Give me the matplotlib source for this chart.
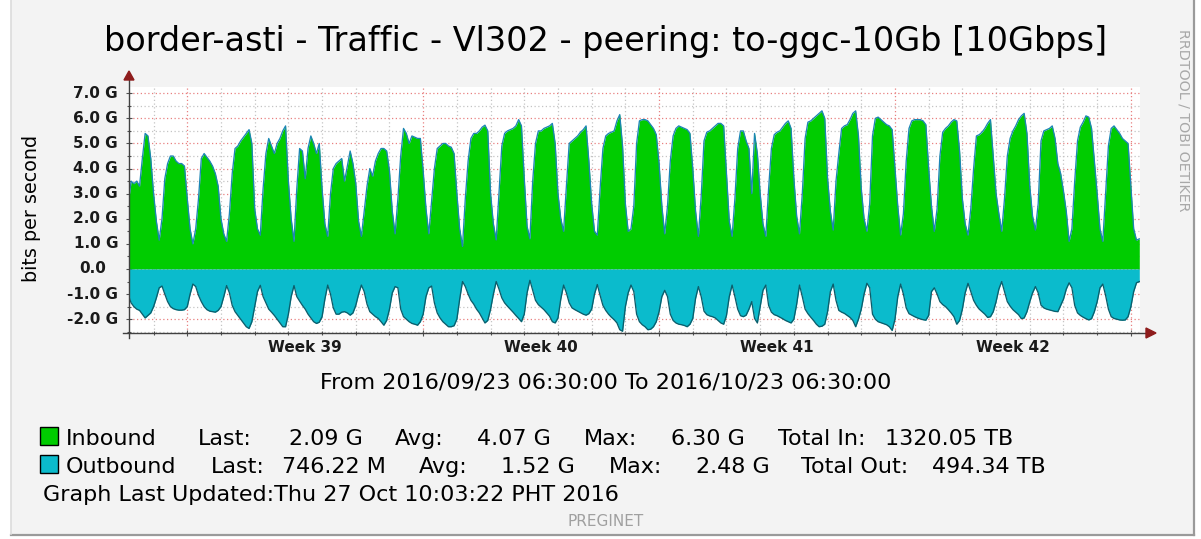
import matplotlib
matplotlib.use("Agg")
import matplotlib.pyplot as plt
import matplotlib.transforms as mtransforms
from matplotlib.lines import Line2D
from matplotlib.patches import Polygon, Rectangle
import numpy as np
import pandas as pd

# ---------------- data ----------------
title = "border-asti - Traffic - Vl302 - peering: to-ggc-10Gb [10Gbps]"
range_text = "From 2016/09/23 06:30:00 To 2016/10/23 06:30:00"
updated_text = "Graph Last Updated:Thu 27 Oct 10:03:22 PHT 2016"
range_start = "2016-09-23 06:30"
range_end = "2016-10-23 06:30"
first_sample = "2016-09-23 06:00"   # samples every 2 hours

# inbound, G bit/s, one row per day (00h,02h,...,22h); first row starts 06h
inbound_rows = [
    [2.6, 3.5, 3.4, 3.5, 3.3, 4.4, 5.4, 5.3, 4.4],
    [3.0, 1.9, 1.15, 2.0, 3.6, 4.2, 4.5, 4.5, 4.3, 4.2, 4.2, 4.1],
    [2.8, 1.6, 1.0, 1.6, 2.8, 4.4, 4.6, 4.45, 4.3, 4.1, 3.8, 3.3],
    [2.0, 1.4, 1.1, 2.2, 3.8, 4.8, 4.9, 5.1, 5.25, 5.4, 5.55, 5.0],
    [2.4, 1.6, 1.35, 3.2, 4.6, 5.2, 4.9, 4.6, 5.0, 5.2, 5.5, 5.7],
    [3.5, 2.0, 1.1, 3.2, 4.8, 4.7, 3.6, 4.8, 5.3, 5.0, 4.6, 5.0],
    [3.2, 1.8, 1.3, 3.0, 4.0, 4.2, 4.3, 4.4, 3.5, 4.1, 4.7, 4.2],
    [3.4, 1.9, 1.3, 2.3, 3.3, 4.0, 3.7, 4.3, 4.6, 4.8, 4.8, 4.7],
    [3.9, 2.3, 1.4, 2.8, 4.5, 5.6, 5.4, 5.0, 5.3, 5.25, 5.2, 5.2],
    [3.9, 2.4, 1.4, 2.7, 4.0, 4.8, 4.9, 5.0, 5.0, 4.9, 4.85, 4.6],
    [3.0, 1.6, 0.9, 2.8, 4.3, 5.2, 5.4, 5.4, 5.5, 5.65, 5.73, 5.5],
    [3.0, 1.8, 1.16, 3.0, 4.9, 5.4, 5.5, 5.55, 5.6, 5.7, 5.95, 5.7],
    [3.6, 1.7, 1.2, 3.5, 5.0, 5.5, 5.5, 5.6, 5.65, 5.7, 5.8, 5.0],
    [3.0, 2.0, 1.5, 3.3, 5.0, 5.1, 5.2, 5.3, 5.45, 5.55, 5.7, 4.3],
    [2.6, 1.5, 1.35, 3.2, 4.8, 5.3, 5.4, 5.45, 5.5, 5.9, 6.15, 4.9],
    [2.6, 1.5, 1.6, 2.5, 5.0, 5.9, 5.95, 5.95, 5.9, 5.75, 5.6, 5.35],
    [4.2, 2.5, 1.4, 2.5, 4.3, 5.3, 5.6, 5.7, 5.65, 5.6, 5.55, 5.4],
    [4.0, 2.3, 1.3, 2.9, 5.1, 5.45, 5.5, 5.6, 5.7, 5.8, 5.8, 5.7],
    [3.8, 1.9, 1.3, 2.8, 4.8, 5.5, 5.5, 5.1, 4.8, 3.0, 5.4, 4.6],
    [3.0, 1.8, 1.3, 3.2, 4.8, 5.35, 5.45, 5.5, 5.65, 5.8, 5.9, 5.6],
    [3.6, 2.1, 1.4, 3.0, 5.2, 5.85, 5.9, 6.0, 6.1, 6.2, 6.3, 6.0],
    [3.6, 2.3, 1.55, 3.5, 4.6, 5.6, 5.7, 5.75, 5.95, 6.2, 6.3, 5.3],
    [3.2, 2.0, 1.5, 2.6, 5.3, 6.0, 6.05, 5.95, 5.85, 5.75, 5.7, 5.55],
    [4.0, 2.5, 1.35, 2.2, 4.3, 5.6, 5.9, 5.95, 5.95, 5.95, 5.9, 5.75],
    [4.0, 2.5, 1.5, 2.4, 4.5, 5.45, 5.6, 5.7, 5.85, 5.95, 5.9, 4.7],
    [2.8, 1.8, 1.35, 2.4, 4.0, 5.3, 5.35, 5.45, 5.6, 5.8, 5.95, 4.5],
    [3.0, 2.2, 1.5, 2.8, 4.5, 5.2, 5.5, 5.7, 5.95, 6.1, 6.2, 5.4],
    [3.3, 2.1, 1.55, 2.6, 5.1, 5.5, 5.55, 5.6, 5.7, 5.2, 4.2, 3.8],
    [3.1, 2.3, 1.1, 1.6, 3.5, 5.1, 5.65, 5.85, 6.1, 6.05, 5.6, 4.3],
    [3.0, 1.6, 1.1, 3.0, 4.9, 5.6, 5.7, 5.55, 5.4, 5.2, 5.1, 5.0],
    [3.3, 1.6, 1.15, 1.2],
]

# outbound, G bit/s (drawn below zero)
outbound_rows = [
    [-1.05, -1.35, -1.5, -1.6, -1.65, -1.8, -1.95, -1.85, -1.75],
    [-1.5, -1.15, -0.75, -0.68, -1.0, -1.3, -1.5, -1.58, -1.62, -1.64, -1.64, -1.62],
    [-1.5, -1.0, -0.6, -0.7, -1.05, -1.3, -1.5, -1.62, -1.68, -1.7, -1.72, -1.65],
    [-1.5, -1.1, -0.66, -0.95, -1.45, -1.7, -1.85, -2.0, -2.15, -2.3, -2.37, -2.1],
    [-1.5, -0.9, -0.65, -1.1, -1.35, -1.6, -1.72, -1.85, -2.0, -2.15, -2.3, -2.3],
    [-1.8, -1.1, -0.66, -1.1, -1.28, -1.45, -1.6, -1.8, -1.95, -2.1, -2.17, -2.12],
    [-1.9, -1.2, -0.64, -1.0, -1.55, -1.8, -1.8, -1.72, -1.7, -1.75, -1.84, -1.75],
    [-1.45, -1.0, -0.64, -0.9, -1.4, -1.7, -1.8, -1.9, -1.97, -2.1, -2.24, -2.05],
    [-1.6, -0.95, -0.7, -0.75, -1.6, -1.9, -2.0, -2.1, -2.17, -2.2, -2.24, -2.1],
    [-1.8, -1.1, -0.75, -0.68, -1.35, -1.75, -1.95, -2.1, -2.2, -2.3, -2.3, -2.26],
    [-2.0, -1.2, -0.5, -0.7, -1.0, -1.25, -1.4, -1.6, -1.75, -1.95, -2.15, -2.05],
    [-1.6, -1.0, -0.5, -0.8, -1.15, -1.35, -1.48, -1.6, -1.72, -1.85, -1.97, -2.1],
    [-1.8, -0.95, -0.45, -0.85, -1.25, -1.42, -1.52, -1.62, -1.75, -1.88, -2.1, -2.15],
    [-1.95, -1.2, -0.64, -0.95, -1.35, -1.55, -1.62, -1.68, -1.74, -1.8, -1.84, -1.78],
    [-1.6, -1.0, -0.62, -1.05, -1.45, -1.65, -1.8, -1.92, -2.02, -2.15, -2.42, -2.48],
    [-1.5, -0.95, -0.64, -0.9, -1.8, -2.1, -2.22, -2.3, -2.42, -2.4, -2.3, -2.1],
    [-1.7, -1.1, -0.85, -1.1, -1.8, -2.05, -2.15, -2.2, -2.22, -2.25, -2.3, -2.2],
    [-1.97, -1.17, -0.7, -1.1, -1.68, -1.82, -1.87, -1.9, -1.95, -2.05, -2.15, -2.2],
    [-1.85, -1.1, -0.64, -1.1, -1.6, -1.86, -1.9, -1.84, -1.6, -1.3, -1.97, -2.15],
    [-1.5, -0.85, -0.64, -1.45, -1.72, -1.82, -1.86, -1.92, -1.98, -2.05, -2.1, -2.15],
    [-2.0, -1.4, -0.64, -1.1, -1.6, -1.78, -1.92, -2.05, -2.2, -2.3, -2.28, -2.2],
    [-1.7, -0.9, -0.6, -1.25, -1.65, -1.72, -1.77, -1.85, -1.93, -2.05, -2.3, -2.0],
    [-1.6, -1.0, -0.57, -0.75, -1.8, -2.0, -2.1, -2.14, -2.18, -2.22, -2.3, -2.45],
    [-2.0, -1.1, -0.6, -1.0, -1.55, -1.78, -1.84, -1.9, -1.95, -1.99, -2.02, -2.04],
    [-1.85, -0.9, -0.75, -1.0, -1.3, -1.42, -1.5, -1.62, -1.75, -1.9, -2.2, -2.05],
    [-1.6, -0.95, -0.57, -0.9, -1.25, -1.45, -1.6, -1.7, -1.8, -1.93, -1.9, -1.7],
    [-1.3, -0.8, -0.5, -0.9, -1.3, -1.48, -1.62, -1.72, -1.82, -1.98, -1.95, -1.7],
    [-1.3, -0.95, -0.7, -0.95, -1.44, -1.55, -1.6, -1.63, -1.66, -1.69, -1.7, -1.45],
    [-1.2, -0.8, -0.55, -0.75, -1.45, -1.75, -1.85, -1.92, -1.98, -2.03, -1.98, -1.7],
    [-1.3, -0.75, -0.6, -1.05, -1.6, -1.9, -1.97, -2.0, -2.03, -2.04, -2.03, -1.9],
    [-1.5, -0.9, -0.55, -0.5],
]

ytick_values = [-2, -1, 0, 1, 2, 3, 4, 5, 6, 7]
ytick_labels = ["-2.0 G", "-1.0 G", "0.0", "1.0 G", "2.0 G", "3.0 G",
                "4.0 G", "5.0 G", "6.0 G", "7.0 G"]
week_labels = ["Week 39", "Week 40", "Week 41", "Week 42"]
week_label_dates = ["2016-09-28 12:00", "2016-10-05 12:00",
                    "2016-10-12 12:00", "2016-10-19 12:00"]

legend_names = ["Inbound", "Outbound"]
legend_last = ["2.09 G", "746.22 M"]
legend_avg = ["4.07 G", "1.52 G"]
legend_max = ["6.30 G", "2.48 G"]
legend_total_label = ["Total In:", "Total Out:"]
legend_total = ["1320.05 TB", "494.34 TB"]

# ---------------- styling ----------------
GREEN = "#00CC00"
CYAN = "#0BBBCC"
GREEN_EDGE = "#1C86B4"
CYAN_EDGE = "#0B5E6C"
RED_GRID = "#E88080"
GRAY_GRID = "#C4C4C4"
ARROW = "#8E1C1C"
BG = "#F3F3F3"

W, H = 1201, 539
fig = plt.figure(figsize=(W / 100, H / 100), dpi=100)
fig.patch.set_facecolor("white")


def fx(px):
    return px / W


def fy(py):
    return 1 - py / H


# canvas background + frame
fig.add_artist(Rectangle((fx(11), fy(534)), fx(1193) - fx(11), fy(0) - fy(534),
                         transform=fig.transFigure, facecolor=BG, edgecolor="none", zorder=0))
fig.add_artist(Line2D([fx(1193.5), fx(1193.5)], [fy(0), fy(535)], color="#9A9A9A",
                      lw=1.6, transform=fig.transFigure))
fig.add_artist(Line2D([fx(11), fx(1194)], [fy(534.5), fy(534.5)], color="#9A9A9A",
                      lw=1.6, transform=fig.transFigure))
fig.add_artist(Line2D([fx(11), fx(11)], [fy(0), fy(534)], color="#DCDCDC",
                      lw=1.2, transform=fig.transFigure))

ax = fig.add_axes([fx(129), fy(333), fx(1140) - fx(129), fy(87) - fy(333)])
ax.set_facecolor("white")

inbound = [v for row in inbound_rows for v in row]
outbound = [v for row in outbound_rows for v in row]
times = pd.date_range(first_sample, periods=len(inbound), freq="2h").to_pydatetime()

ax.fill_between(times, 0, inbound, color=GREEN, lw=0, zorder=2)
ax.plot(times, inbound, color=GREEN_EDGE, lw=0.95, zorder=3)
ax.fill_between(times, 0, outbound, color=CYAN, lw=0, zorder=2)
ax.plot(times, outbound, color=CYAN_EDGE, lw=0.95, zorder=3)

t0 = pd.Timestamp(range_start)
t1 = pd.Timestamp(range_end)
ax.set_xlim(t0.to_pydatetime(), t1.to_pydatetime())
ax.set_ylim(-2.55, 7.25)

# grid positions from the calendar
days = pd.date_range("2016-09-24", "2016-10-23", freq="D")
sundays = [d for d in days if d.dayofweek == 6]
ax.set_xticks([d.to_pydatetime() for d in sundays])
ax.set_xticks([d.to_pydatetime() for d in days if d.dayofweek != 6], minor=True)
ax.set_yticks(ytick_values)
ax.set_yticks([v + 0.5 for v in range(-3, 7)], minor=True)
ax.tick_params(axis="both", which="both", labelbottom=False, labelleft=False,
               color="#505050", direction="inout")
ax.tick_params(axis="both", which="major", length=5, width=0.8)
ax.tick_params(axis="both", which="minor", length=3, width=0.8)
ax.set_axisbelow(True)
ax.grid(which="major", color=RED_GRID, ls=(0, (1, 2)), lw=0.9)
ax.grid(which="minor", color=GRAY_GRID, ls=(0, (1, 2)), lw=0.9)

for s in ["top", "right", "left", "bottom"]:
    ax.spines[s].set_visible(False)

# axis lines with arrows (figure pixels)
fig.add_artist(Line2D([fx(123), fx(1148)], [fy(333), fy(333)], color="#404040",
                      lw=1.0, transform=fig.transFigure, zorder=5))
fig.add_artist(Line2D([fx(129), fx(129)], [fy(338), fy(79)], color="#404040",
                      lw=1.0, transform=fig.transFigure, zorder=5))
fig.add_artist(Polygon([(fx(124), fy(80)), (fx(134), fy(80)), (fx(129), fy(71))],
                       closed=True, transform=fig.transFigure, color=ARROW, zorder=6))
fig.add_artist(Polygon([(fx(1146), fy(328)), (fx(1146), fy(338)), (fx(1156), fy(333))],
                       closed=True, transform=fig.transFigure, color=ARROW, zorder=6))

# y tick labels
ytrans = mtransforms.blended_transform_factory(ax.transAxes, ax.transData)
for v, lab in zip(ytick_values, ytick_labels):
    off = -23 if lab == "0.0" else -11
    ax.text(0, v, lab, transform=ytrans + mtransforms.ScaledTranslation(off / 100, 0, fig.dpi_scale_trans),
            ha="right", va="center", fontsize=11, fontweight="bold", color="#1A1A1A")

# x week labels
xtrans = mtransforms.blended_transform_factory(ax.transData, ax.transAxes)
for d, lab in zip(week_label_dates, week_labels):
    ax.text(pd.Timestamp(d).to_pydatetime(), 0, lab,
            transform=xtrans + mtransforms.ScaledTranslation(0, -19.5 / 100, fig.dpi_scale_trans),
            ha="center", va="baseline", fontsize=11, fontweight="bold", color="#1A1A1A")


def ptext(x, y, s, **kw):
    fig.text(fx(x), fy(y), s, **kw)


ptext(606, 51, title, ha="center", va="baseline", fontsize=24.1, color="black")
ptext(31.5, 208, "bits per second", ha="center", va="center", rotation=90,
      fontsize=13.8, color="black")
ptext(1184, 120, "RRDTOOL / TOBI OETIKER", ha="center", va="center", rotation=270,
      fontsize=10.3, color="#A8A8A8")
ptext(606, 389, range_text, ha="center", va="baseline", fontsize=16, color="black")

LEG = 16
rows_y = [445, 473]
label_x = [(66, 198, 395, 584, 778), (66, 211, 419, 609, 801)]
value_x = [(363, 551, 745, 1013), (386, 575, 770, 1046)]
colors = [GREEN, CYAN]
for i in range(2):
    yb = rows_y[i]
    fig.add_artist(Rectangle((fx(40), fy(yb - 0.5)), fx(58) - fx(40), fy(yb - 18.5) - fy(yb - 0.5),
                             transform=fig.transFigure, facecolor=colors[i],
                             edgecolor="black", lw=1.0, zorder=5))
    lx = label_x[i]
    vx = value_x[i]
    ptext(lx[0], yb, legend_names[i], ha="left", va="baseline", fontsize=LEG)
    ptext(lx[1], yb, "Last:", ha="left", va="baseline", fontsize=LEG)
    ptext(vx[0], yb, legend_last[i], ha="right", va="baseline", fontsize=LEG)
    ptext(lx[2], yb, "Avg:", ha="left", va="baseline", fontsize=LEG)
    ptext(vx[1], yb, legend_avg[i], ha="right", va="baseline", fontsize=LEG)
    ptext(lx[3], yb, "Max:", ha="left", va="baseline", fontsize=LEG)
    ptext(vx[2], yb, legend_max[i], ha="right", va="baseline", fontsize=LEG)
    ptext(lx[4], yb, legend_total_label[i], ha="left", va="baseline", fontsize=LEG)
    ptext(vx[3], yb, legend_total[i], ha="right", va="baseline", fontsize=LEG)

ptext(43, 501, updated_text, ha="left", va="baseline", fontsize=LEG)
ptext(606, 526, "PREGINET", ha="center", va="baseline", fontsize=11, color="#A0A0A0")

fig.savefig("out.png", dpi=100, facecolor=fig.get_facecolor())
